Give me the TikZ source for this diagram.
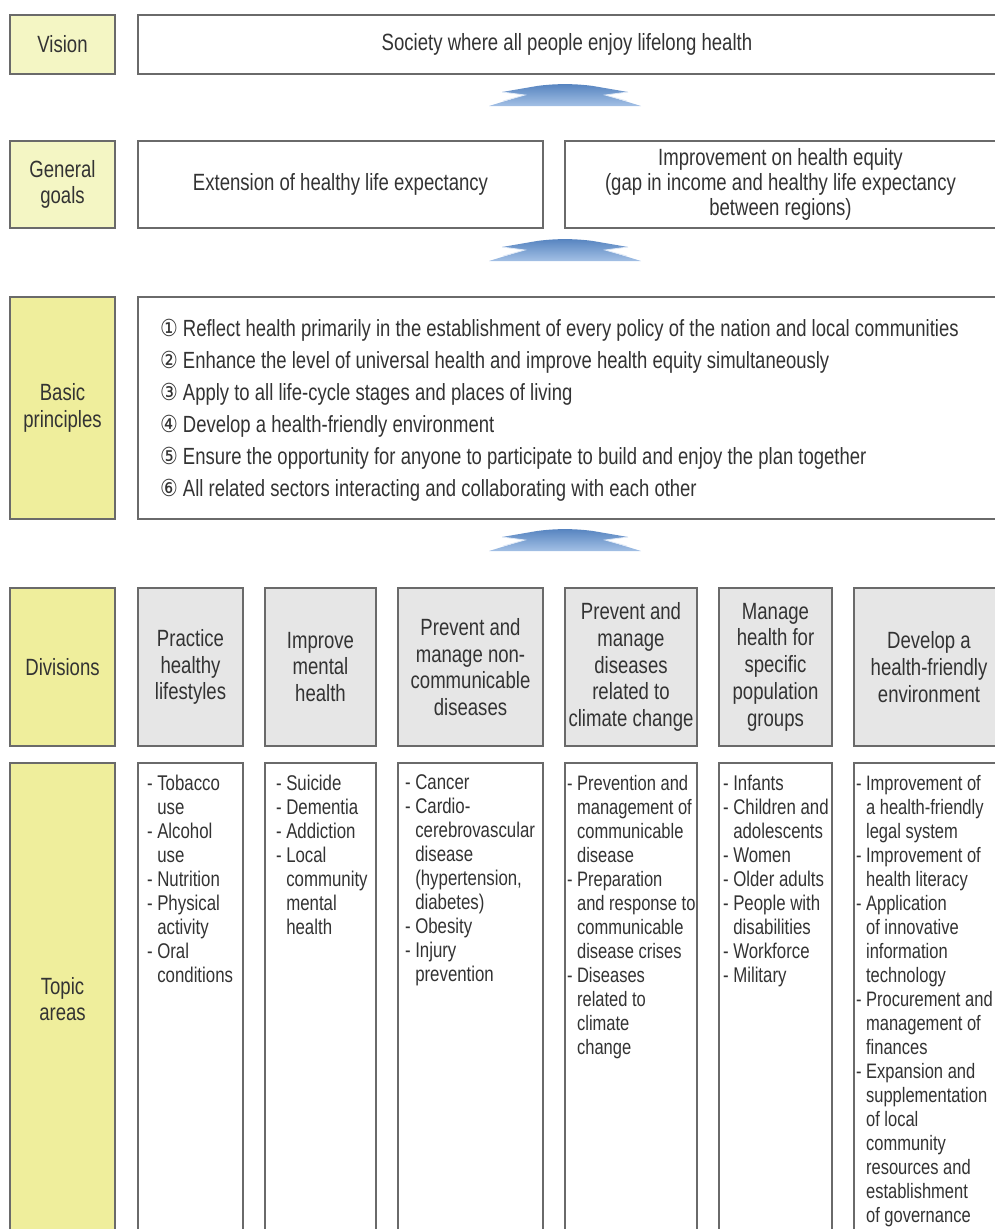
\documentclass[tikz,border=0pt]{standalone}
\usepackage{fontspec}
\setmainfont{Liberation Sans}[FakeStretch=0.79]
\newfontfamily\symfont{DejaVu Sans}[FakeStretch=0.85]
\definecolor{txt}{HTML}{333333}
\definecolor{edge}{HTML}{6A6A6A}
\definecolor{ylw}{HTML}{EFEE9C}
\definecolor{ylwpale}{HTML}{F4F6C4}
\definecolor{divgray}{HTML}{E6E6E6}
\definecolor{arrtop}{HTML}{5583BF}
\definecolor{arrbot}{HTML}{A3C0E5}
\newcommand\szhead{\fontsize{23.5}{26.7}\selectfont}
\newcommand\sztopic{\fontsize{21.3}{24}\selectfont}
\newcommand\sztopicsm{\fontsize{20.9}{24}\selectfont}
\newcommand\szprin{\fontsize{23.4}{32}\selectfont}
\newcommand\cn[1]{{\symfont #1}}
\newcommand\hd{\phantom{- }}
\begin{document}
\begin{tikzpicture}[x=1pt,y=-1pt,
  every node/.style={text=txt, inner sep=0pt, outer sep=0pt},
  frame/.style={draw=edge, line width=1.1pt, anchor=north west, align=center, font=\szhead},
  lbl/.style={frame, fill=ylw},
  lblpale/.style={frame, fill=ylwpale},
  plain/.style={frame, fill=white},
  divbox/.style={frame, fill=divgray},
  topicbox/.style={frame, fill=white, minimum height=472pt},
  topictext/.style={anchor=north west, align=left, font=\sztopic},
  uparrow/.pic={
    \shade[top color=arrtop, bottom color=arrbot]
      (-76,23) -- (-40,12) -- (-63,9) -- (-28,3) .. controls (-10,0.5) and (10,0.5) .. (28,3)
      -- (63,9) -- (40,12) -- (76,23) -- cycle;
    \draw[white!65!arrbot, line width=0.8pt] (-63,9) -- (-40,12) -- (-62,18);
    \draw[white!65!arrbot, line width=0.8pt] (63,9) -- (40,12) -- (62,18);
  }
]
\useasboundingbox (0,0) rectangle (995,1229);
\clip (0,0) rectangle (995,1229);

% Vision
\node[lblpale, minimum width=105pt, minimum height=59pt] (vision) at (10,15) {Vision};
\node[plain, minimum width=858pt, minimum height=59pt] (visiontext) at (138,15) {Society where all people enjoy lifelong health};
\coordinate (a1) at (565,83);
\pic at (a1) {uparrow};

% General goals
\node[lblpale, minimum width=105pt, minimum height=87pt] (goals) at (10,141) {General\\goals};
\node[plain, minimum width=405pt, minimum height=87pt] (goal1) at (138,141) {Extension of healthy life expectancy};
\node[plain, minimum width=431pt, minimum height=87pt, font=\fontsize{23.5}{25}\selectfont] (goal2) at (565,141) {Improvement on health equity\\(gap in income and healthy life expectancy\\between regions)};
\coordinate (a2) at (565,238);
\pic at (a2) {uparrow};

% Basic principles
\node[lbl, minimum width=105pt, minimum height=222pt] (principles) at (10,297) {Basic\\principles};
\node[plain, minimum width=858pt, minimum height=222pt] (prinbox) at (138,297) {};
\node[anchor=west, align=left, font=\szprin] (printext) at (160,410) {%
\cn{①} Reflect health primarily in the establishment of every policy of the nation and local communities\\
\cn{②} Enhance the level of universal health and improve health equity simultaneously\\
\cn{③} Apply to all life-cycle stages and places of living\\
\cn{④} Develop a health-friendly environment\\
\cn{⑤} Ensure the opportunity for anyone to participate to build and enjoy the plan together\\
\cn{⑥} All related sectors interacting and collaborating with each other};
\coordinate (a3) at (565,528);
\pic at (a3) {uparrow};

% Divisions
\node[lbl, minimum width=105pt, minimum height=158pt] (divisions) at (10,588) {Divisions};
\node[divbox, minimum width=105pt, minimum height=158pt] (d1) at (138,588) {Practice\\healthy\\lifestyles};
\node[divbox, minimum width=111pt, minimum height=158pt] (d2) at (265,588) {Improve\\mental\\health};
\node[divbox, minimum width=145pt, minimum height=158pt] (d3) at (398,588) {Prevent and\\manage non-\\communicable\\diseases};
\node[divbox, minimum width=132pt, minimum height=158pt] (d4) at (565,588) {Prevent and\\manage\\diseases\\related to\\climate change};
\node[divbox, minimum width=113pt, minimum height=158pt] (d5) at (719,588) {Manage\\health for\\specific\\population\\groups};
\node[divbox, minimum width=150pt, minimum height=158pt] (d6) at (854,588) {Develop a\\health-friendly\\environment};

% Topic areas
\node[lbl, minimum width=105pt, minimum height=472pt] (topics) at (10,763) {Topic\\areas};
\node[topicbox, minimum width=105pt] (t1) at (138,763) {};
\node[topicbox, minimum width=111pt] (t2) at (265,763) {};
\node[topicbox, minimum width=145pt] (t3) at (398,763) {};
\node[topicbox, minimum width=132pt] (t4) at (565,763) {};
\node[topicbox, minimum width=113pt] (t5) at (719,763) {};
\node[topicbox, minimum width=150pt] (t6) at (854,763) {};

\node[topictext] (tt1) at (147,775) {- Tobacco\\\hd use\\- Alcohol\\\hd use\\- Nutrition\\- Physical\\\hd activity\\- Oral\\\hd conditions};
\node[topictext] (tt2) at (276,775) {- Suicide\\- Dementia\\- Addiction\\- Local\\\hd community\\\hd mental\\\hd health};
\node[topictext] (tt3) at (405,775) {- Cancer\\- Cardio-\\\hd cerebrovascular\\\hd disease\\\hd (hypertension,\\\hd diabetes)\\- Obesity\\- Injury\\\hd prevention};
\node[topictext, font=\sztopicsm] (tt4) at (567,775) {- Prevention and\\\hd management of\\\hd communicable\\\hd disease\\- Preparation\\\hd and response to\\\hd communicable\\\hd disease crises\\- Diseases\\\hd related to\\\hd climate\\\hd change};
\node[topictext] (tt5) at (723,775) {- Infants\\- Children and\\\hd adolescents\\- Women\\- Older adults\\- People with\\\hd disabilities\\- Workforce\\- Military};
\node[topictext, font=\sztopicsm] (tt6) at (856,775) {- Improvement of\\\hd a health-friendly\\\hd legal system\\- Improvement of\\\hd health literacy\\- Application\\\hd of innovative\\\hd information\\\hd technology\\- Procurement and\\\hd management of\\\hd finances\\- Expansion and\\\hd supplementation\\\hd of local\\\hd community\\\hd resources and\\\hd establishment\\\hd of governance};
\end{tikzpicture}
\end{document}
